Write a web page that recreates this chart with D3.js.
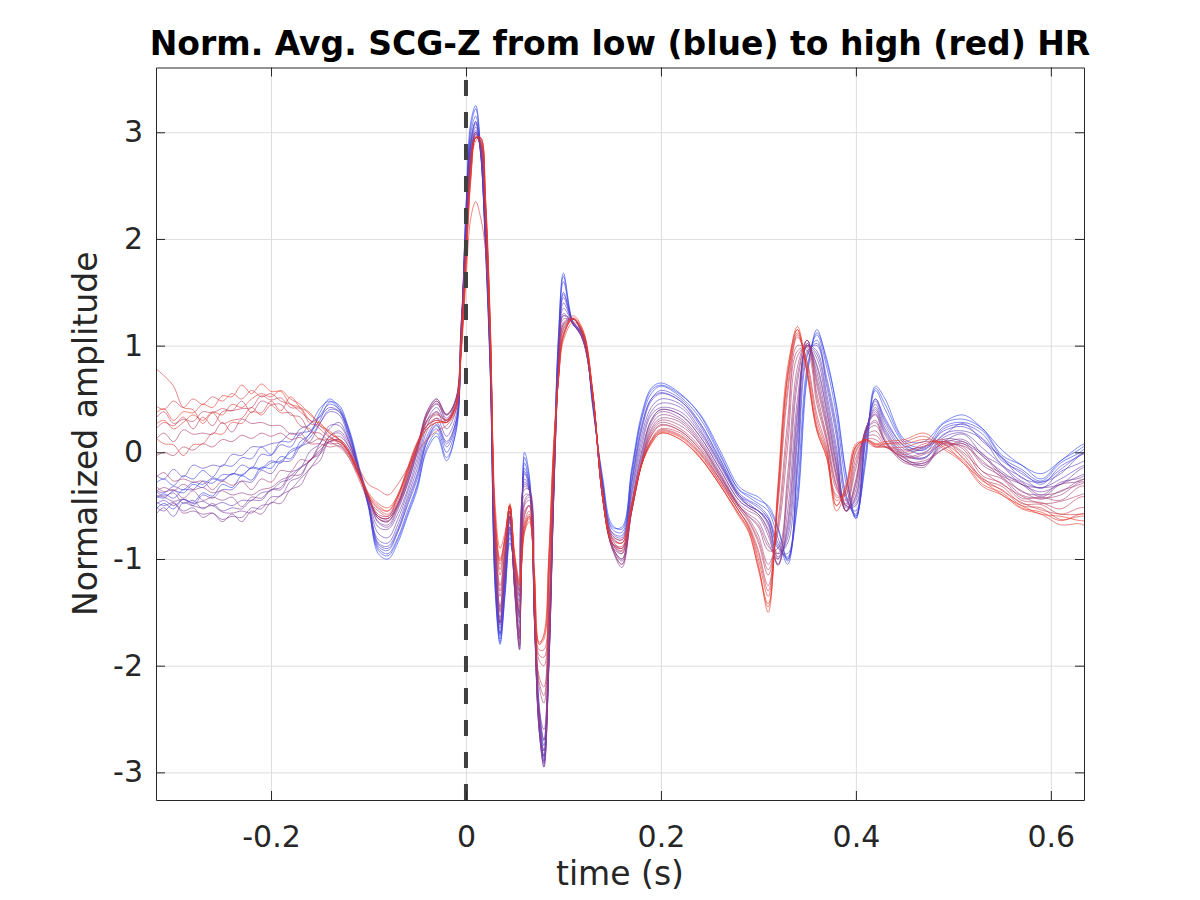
<!DOCTYPE html>
<html>
<head>
<meta charset="UTF-8">
<script src="https://d3js.org/d3.v7.min.js"></script>
<style>
    body { margin: 0; background: #fff; }
    text { font-family: "DejaVu Sans", sans-serif; fill: #262626; }
    .grid line { stroke: #dedede; stroke-width: 1; }
    .grid path { display: none; }
    .axis path, .axis line { stroke: #262626; stroke-width: 1; }
    .axis text { font-size: 30px; }
</style>
</head>
<body>
<svg id="chart" width="1200" height="900"></svg>
<script>
// shared time base (s)
const timeS = [
    -0.32,-0.31,-0.30,-0.29,-0.28,-0.27,-0.26,-0.25,-0.24,-0.23,-0.22,-0.21,-0.20,-0.19,-0.18,-0.17,-0.16,-0.15,-0.14,-0.13,-0.12,-0.11,-0.10,
    -0.09,-0.08,-0.07,-0.06,-0.05,-0.04,-0.03,-0.02,-0.01,-0.005,
    0,0.005,0.01,0.015,0.02,0.025,0.03,0.035,0.04,0.045,0.05,0.055,0.06,0.065,0.07,0.075,0.08,0.085,0.09,0.095,0.1,0.11,0.12,
    0.13,0.14,0.15,0.16,0.17,0.18,0.19,0.2,0.22,0.24,0.26,0.28,0.29,0.3,
    0.31,0.32,0.33,0.34,0.35,0.36,0.37,0.38,0.39,0.40,0.41,0.42,0.43,
    0.45,0.47,0.49,0.51,0.53,0.55,0.57,0.59,0.61,0.63,0.64
];

// one averaged beat per HR bin, low HR (blue) -> high HR (red)
const hr01 = [-0.55,-0.48,-0.53,-0.44,-0.47,-0.38,-0.41,-0.30,-0.33,-0.22,-0.26,-0.14,-0.15,-0.04,-0.06,0.1,0.17,0.37,0.5,0.42,0.22,-0.12,-0.5,
    -0.95,-1.0,-0.85,-0.6,-0.35,0.05,0.18,-0.05,0.2,1.0,
    2.3,3.1,3.25,2.85,1.9,0.7,-1.3,-1.8,-1.35,-0.8,-1.1,-1.35,-0.05,-0.25,-1.3,-2.4,-2.75,-1.8,-0.2,1.1,1.65,1.2,1.1,
    0.45,-0.25,-0.7,-0.7,-0.15,0.35,0.6,0.65,0.55,0.35,0.0,-0.35,-0.4,-0.45,
    -0.5,-0.7,-1.0,-0.5,0.7,1.15,0.85,0.45,-0.2,-0.6,-0.1,0.6,0.45,
    0.1,0.05,0.27,0.31,0.22,-0.03,-0.12,-0.25,-0.08,0.03,0.1];
const hr02 = [-0.4,-0.43,-0.36,-0.38,-0.3,-0.33,-0.25,-0.27,-0.2,-0.22,-0.14,-0.15,-0.08,-0.1,0.02,0.06,0.18,0.3,0.47,0.44,0.2,-0.15,-0.52,
    -0.92,-0.97,-0.82,-0.58,-0.32,0.02,0.15,-0.08,0.22,1.02,
    2.28,3.05,3.22,2.85,1.92,0.72,-1.28,-1.78,-1.32,-0.85,-1.05,-1.3,0.0,-0.22,-1.25,-2.35,-2.7,-1.75,-0.18,1.12,1.68,1.22,1.12,
    0.42,-0.22,-0.68,-0.72,-0.18,0.32,0.58,0.63,0.54,0.36,0.03,-0.32,-0.38,-0.42,
    -0.52,-0.72,-1.02,-0.45,0.75,1.12,0.88,0.42,-0.22,-0.62,-0.05,0.62,0.5,
    0.12,0.1,0.28,0.35,0.22,0.02,-0.12,-0.2,-0.08,0.06,0.1];
const hr03 = [-0.3,-0.25,-0.31,-0.22,-0.25,-0.17,-0.23,-0.12,-0.13,-0.05,-0.06,0.05,-0.02,0.1,0.1,0.22,0.26,0.41,0.48,0.4,0.2,-0.15,-0.5,
    -0.9,-0.95,-0.8,-0.55,-0.3,0.1,0.22,0.0,0.25,1.05,
    2.25,3.0,3.15,2.8,1.95,0.75,-1.25,-1.75,-1.3,-0.75,-1.15,-1.4,-0.1,-0.3,-1.35,-2.45,-2.8,-1.85,-0.25,1.05,1.6,1.2,1.1,
    0.45,-0.28,-0.72,-0.75,-0.2,0.3,0.55,0.62,0.52,0.32,-0.02,-0.35,-0.42,-0.48,
    -0.55,-0.8,-1.05,-0.35,0.8,1.1,0.8,0.35,-0.3,-0.62,0.0,0.58,0.4,
    0.08,0.02,0.24,0.28,0.2,-0.05,-0.16,-0.27,-0.1,0.0,0.08];
const hr04 = [-0.45,-0.39,-0.43,-0.35,-0.35,-0.27,-0.29,-0.21,-0.21,-0.12,-0.15,-0.02,-0.03,0.07,0.05,0.18,0.2,0.34,0.45,0.4,0.18,-0.15,-0.48,
    -0.88,-0.92,-0.75,-0.5,-0.25,0.1,0.25,0.05,0.28,1.1,
    2.2,2.95,3.1,2.8,2.0,0.8,-1.2,-1.7,-1.25,-0.7,-1.2,-1.5,-0.15,-0.3,-1.4,-2.5,-2.85,-1.9,-0.3,1.0,1.5,1.2,1.1,
    0.48,-0.3,-0.75,-0.78,-0.25,0.25,0.5,0.58,0.5,0.28,-0.05,-0.38,-0.45,-0.5,
    -0.6,-0.85,-1.0,-0.2,0.9,1.05,0.7,0.25,-0.4,-0.6,0.1,0.5,0.32,
    0.05,-0.01,0.22,0.26,0.17,-0.08,-0.18,-0.3,-0.13,-0.03,0.05];
const hr05 = [-0.35,-0.38,-0.32,-0.35,-0.28,-0.3,-0.24,-0.26,-0.2,-0.21,-0.15,-0.16,-0.1,-0.08,0.0,0.05,0.14,0.27,0.4,0.38,0.16,-0.16,-0.48,
    -0.86,-0.9,-0.74,-0.48,-0.22,0.12,0.26,0.08,0.3,1.08,
    2.18,2.92,3.08,2.82,2.0,0.8,-1.18,-1.72,-1.22,-0.72,-1.2,-1.52,-0.18,-0.32,-1.42,-2.52,-2.88,-1.9,-0.3,0.98,1.48,1.22,1.1,
    0.48,-0.3,-0.76,-0.8,-0.28,0.22,0.5,0.56,0.48,0.27,-0.06,-0.4,-0.46,-0.52,
    -0.62,-0.88,-0.98,-0.12,0.92,1.02,0.66,0.2,-0.42,-0.58,0.12,0.5,0.3,
    0.06,0.04,0.2,0.24,0.13,-0.06,-0.2,-0.28,-0.16,-0.02,0.03];
const hr06 = [-0.2,-0.25,-0.16,-0.23,-0.12,-0.15,-0.12,-0.13,-0.02,-0.03,0.05,0.05,0.08,0.1,0.18,0.16,0.27,0.33,0.42,0.38,0.15,-0.15,-0.45,
    -0.85,-0.88,-0.72,-0.45,-0.2,0.15,0.28,0.1,0.3,1.05,
    2.15,2.9,3.1,2.85,2.0,0.8,-1.15,-1.7,-1.2,-0.7,-1.2,-1.55,-0.2,-0.35,-1.45,-2.55,-2.85,-1.9,-0.3,0.95,1.45,1.2,1.1,
    0.5,-0.3,-0.78,-0.82,-0.3,0.2,0.48,0.55,0.48,0.25,-0.08,-0.4,-0.48,-0.55,
    -0.62,-0.9,-0.95,-0.05,0.95,1.0,0.62,0.15,-0.45,-0.55,0.15,0.48,0.28,
    0.03,0.03,0.16,0.27,0.1,-0.05,-0.24,-0.28,-0.2,-0.03,0.0];
const hr07 = [-0.6,-0.52,-0.6,-0.47,-0.5,-0.4,-0.43,-0.35,-0.35,-0.27,-0.28,-0.17,-0.2,-0.09,-0.08,0.05,0.1,0.27,0.38,0.35,0.12,-0.18,-0.5,
    -0.82,-0.85,-0.68,-0.42,-0.15,0.2,0.32,0.15,0.35,1.1,
    2.1,2.9,3.05,2.8,2.0,0.85,-1.1,-1.65,-1.15,-0.65,-1.25,-1.6,-0.25,-0.35,-1.5,-2.6,-2.9,-1.95,-0.35,0.9,1.4,1.2,1.08,
    0.5,-0.32,-0.8,-0.85,-0.35,0.15,0.42,0.5,0.45,0.22,-0.1,-0.4,-0.5,-0.55,
    -0.65,-0.95,-0.85,0.1,1.0,0.95,0.55,0.05,-0.5,-0.5,0.18,0.45,0.25,
    0.0,-0.05,0.17,0.2,0.12,-0.12,-0.23,-0.34,-0.18,-0.1,-0.05];
const hr08 = [-0.5,-0.45,-0.5,-0.44,-0.48,-0.46,-0.5,-0.47,-0.5,-0.45,-0.45,-0.38,-0.36,-0.28,-0.25,-0.15,-0.08,0.08,0.22,0.28,0.1,-0.17,-0.47,
    -0.76,-0.8,-0.63,-0.38,-0.1,0.25,0.38,0.22,0.4,1.12,
    2.08,2.88,3.02,2.82,2.02,0.85,-1.08,-1.62,-1.12,-0.62,-1.28,-1.68,-0.28,-0.35,-1.5,-2.6,-2.92,-1.98,-0.38,0.88,1.35,1.2,1.06,
    0.5,-0.35,-0.82,-0.9,-0.38,0.1,0.38,0.46,0.42,0.2,-0.1,-0.42,-0.5,-0.55,
    -0.66,-0.98,-0.8,0.18,1.0,0.92,0.5,0.0,-0.5,-0.48,0.18,0.42,0.22,
    -0.02,-0.06,0.14,0.18,0.04,-0.12,-0.27,-0.33,-0.25,-0.14,-0.1];
const hr09 = [-0.35,-0.41,-0.38,-0.48,-0.45,-0.53,-0.48,-0.55,-0.52,-0.53,-0.45,-0.45,-0.35,-0.33,-0.19,-0.15,0.01,0.08,0.25,0.25,0.1,-0.15,-0.45,
    -0.7,-0.72,-0.58,-0.35,-0.05,0.3,0.42,0.28,0.45,1.15,
    2.05,2.85,3.0,2.85,2.05,0.85,-1.05,-1.6,-1.1,-0.6,-1.3,-1.75,-0.3,-0.35,-1.5,-2.6,-2.95,-2.0,-0.4,0.85,1.3,1.2,1.05,
    0.5,-0.38,-0.85,-0.95,-0.42,0.05,0.35,0.42,0.38,0.18,-0.12,-0.42,-0.5,-0.55,
    -0.68,-1.0,-0.75,0.25,1.0,0.88,0.45,-0.05,-0.52,-0.45,0.2,0.4,0.2,
    -0.03,-0.05,0.1,0.17,-0.02,-0.13,-0.3,-0.33,-0.3,-0.16,-0.12];
const hr10 = [-0.45,-0.5,-0.47,-0.55,-0.52,-0.61,-0.57,-0.63,-0.6,-0.61,-0.52,-0.53,-0.42,-0.41,-0.27,-0.23,-0.07,0.0,0.15,0.18,0.05,-0.18,-0.42,
    -0.65,-0.68,-0.52,-0.3,0.0,0.35,0.48,0.32,0.5,1.2,
    2.0,2.8,3.0,2.85,2.1,0.9,-1.0,-1.6,-1.1,-0.6,-1.3,-1.85,-0.35,-0.35,-1.5,-2.55,-2.9,-2.0,-0.4,0.8,1.28,1.22,1.05,
    0.52,-0.4,-0.88,-1.0,-0.48,0.0,0.3,0.4,0.35,0.15,-0.15,-0.45,-0.52,-0.58,
    -0.72,-1.05,-0.7,0.35,1.0,0.82,0.4,-0.1,-0.55,-0.42,0.2,0.38,0.18,
    -0.05,-0.12,0.12,0.1,-0.01,-0.2,-0.28,-0.4,-0.28,-0.24,-0.18];
const hr11 = [-0.4,-0.42,-0.46,-0.44,-0.5,-0.52,-0.5,-0.56,-0.57,-0.55,-0.57,-0.5,-0.48,-0.4,-0.35,-0.25,-0.15,-0.02,0.15,0.2,0.08,-0.16,-0.42,
    -0.66,-0.7,-0.54,-0.3,0.0,0.34,0.46,0.3,0.5,1.18,
    2.02,2.82,3.0,2.85,2.08,0.88,-1.02,-1.6,-1.08,-0.6,-1.32,-1.82,-0.32,-0.36,-1.52,-2.58,-2.95,-2.02,-0.42,0.82,1.28,1.2,1.05,
    0.52,-0.4,-0.88,-1.02,-0.48,-0.02,0.3,0.4,0.35,0.15,-0.15,-0.45,-0.52,-0.58,
    -0.74,-1.06,-0.65,0.4,1.02,0.8,0.38,-0.12,-0.55,-0.4,0.22,0.36,0.16,
    -0.06,-0.1,0.08,0.12,-0.04,-0.18,-0.3,-0.37,-0.3,-0.22,-0.18];
const hr12 = [-0.5,-0.55,-0.48,-0.57,-0.55,-0.58,-0.57,-0.65,-0.58,-0.65,-0.55,-0.58,-0.47,-0.48,-0.35,-0.31,-0.15,-0.08,0.12,0.15,0.05,-0.15,-0.4,
    -0.62,-0.65,-0.5,-0.28,0.02,0.38,0.5,0.35,0.52,1.2,
    2.0,2.8,2.98,2.85,2.1,0.9,-0.95,-1.55,-1.05,-0.6,-1.3,-1.85,-0.4,-0.4,-1.55,-2.55,-2.85,-2.0,-0.45,0.78,1.25,1.22,1.05,
    0.52,-0.42,-0.9,-1.05,-0.5,-0.05,0.28,0.38,0.32,0.12,-0.18,-0.48,-0.55,-0.6,
    -0.78,-1.05,-0.55,0.5,1.02,0.75,0.32,-0.15,-0.55,-0.35,0.22,0.35,0.12,
    -0.08,-0.14,0.1,0.08,-0.03,-0.22,-0.3,-0.42,-0.3,-0.27,-0.2];
const hr13 = [-0.3,-0.37,-0.35,-0.43,-0.36,-0.45,-0.42,-0.45,-0.42,-0.51,-0.42,-0.43,-0.35,-0.35,-0.22,-0.21,-0.07,-0.02,0.1,0.12,0.02,-0.2,-0.42,
    -0.6,-0.62,-0.48,-0.25,0.05,0.38,0.5,0.35,0.5,1.15,
    1.95,2.75,2.98,2.88,2.15,0.95,-0.9,-1.5,-1.0,-0.55,-1.25,-1.8,-0.45,-0.4,-1.5,-2.5,-2.8,-1.95,-0.4,0.75,1.22,1.25,1.08,
    0.55,-0.42,-0.9,-1.08,-0.55,-0.08,0.25,0.35,0.3,0.1,-0.2,-0.5,-0.58,-0.65,
    -0.85,-1.0,-0.4,0.65,1.05,0.7,0.28,-0.2,-0.55,-0.3,0.2,0.3,0.1,
    -0.1,-0.1,0.03,0.1,-0.1,-0.2,-0.37,-0.4,-0.37,-0.26,-0.25];
const hr14 = [-0.38,-0.33,-0.36,-0.3,-0.35,-0.33,-0.38,-0.36,-0.4,-0.38,-0.4,-0.35,-0.33,-0.26,-0.22,-0.14,-0.08,0.02,0.1,0.12,0.02,-0.2,-0.42,
    -0.62,-0.64,-0.5,-0.26,0.04,0.36,0.48,0.36,0.5,1.12,
    1.95,2.75,2.96,2.88,2.18,0.98,-0.88,-1.48,-0.98,-0.55,-1.22,-1.75,-0.48,-0.42,-1.48,-2.45,-2.7,-1.88,-0.38,0.75,1.2,1.25,1.08,
    0.55,-0.42,-0.9,-1.05,-0.55,-0.1,0.22,0.32,0.28,0.08,-0.2,-0.5,-0.6,-0.68,
    -0.88,-0.95,-0.3,0.72,1.05,0.66,0.25,-0.22,-0.55,-0.28,0.2,0.28,0.1,
    -0.08,-0.12,0.06,0.06,-0.08,-0.24,-0.36,-0.44,-0.36,-0.3,-0.26];
const hr15 = [-0.25,-0.19,-0.27,-0.25,-0.28,-0.27,-0.35,-0.27,-0.31,-0.27,-0.35,-0.25,-0.28,-0.17,-0.18,-0.07,-0.08,0.05,0.1,0.1,0.0,-0.2,-0.42,
    -0.62,-0.65,-0.5,-0.25,0.05,0.35,0.45,0.35,0.5,1.1,
    1.95,2.75,2.95,2.9,2.2,1.0,-0.85,-1.45,-0.95,-0.55,-1.2,-1.7,-0.5,-0.45,-1.45,-2.4,-2.6,-1.8,-0.35,0.75,1.2,1.25,1.08,
    0.55,-0.42,-0.88,-1.0,-0.55,-0.1,0.2,0.3,0.25,0.08,-0.22,-0.5,-0.6,-0.7,
    -0.92,-0.9,-0.2,0.8,1.05,0.62,0.22,-0.25,-0.55,-0.25,0.18,0.25,0.1,
    -0.08,-0.08,0.03,0.08,-0.12,-0.23,-0.4,-0.43,-0.4,-0.28,-0.28];
const hr16 = [0.1,0.18,0.1,0.21,0.17,0.18,0.17,0.28,0.19,0.31,0.27,0.28,0.25,0.25,0.17,0.18,0.09,0.13,0.08,0.08,-0.02,-0.2,-0.42,
    -0.6,-0.62,-0.48,-0.22,0.05,0.3,0.38,0.3,0.45,1.05,
    1.9,2.7,2.95,2.9,2.25,1.05,-0.8,-1.35,-0.95,-0.55,-1.15,-1.55,-0.55,-0.5,-1.35,-2.2,-2.35,-1.6,-0.25,0.75,1.18,1.25,1.1,
    0.55,-0.42,-0.88,-0.95,-0.55,-0.1,0.18,0.28,0.22,0.05,-0.22,-0.5,-0.62,-0.78,
    -1.05,-0.75,0.05,0.9,1.0,0.55,0.15,-0.3,-0.5,-0.15,0.15,0.2,0.08,
    -0.05,-0.02,0.08,0.05,-0.18,-0.25,-0.43,-0.42,-0.45,-0.32,-0.32];
const hr17 = [-0.05,0.0,-0.03,0.05,0.02,0.08,0.05,0.12,0.1,0.16,0.13,0.18,0.15,0.18,0.12,0.14,0.08,0.08,0.05,0.06,-0.03,-0.22,-0.44,
    -0.6,-0.62,-0.48,-0.22,0.05,0.3,0.36,0.3,0.45,1.02,
    1.88,2.7,2.95,2.9,2.28,1.08,-0.78,-1.3,-0.92,-0.52,-1.12,-1.5,-0.58,-0.5,-1.32,-2.15,-2.28,-1.52,-0.2,0.75,1.16,1.25,1.1,
    0.55,-0.42,-0.86,-0.93,-0.55,-0.12,0.16,0.26,0.2,0.03,-0.24,-0.52,-0.64,-0.82,
    -1.1,-0.7,0.18,0.95,0.98,0.5,0.12,-0.32,-0.48,-0.1,0.14,0.16,0.06,
    -0.04,0.0,0.1,0.0,-0.18,-0.3,-0.41,-0.48,-0.46,-0.4,-0.37];
const hr18 = [0.3,0.38,0.27,0.31,0.29,0.38,0.37,0.41,0.39,0.48,0.37,0.48,0.45,0.45,0.35,0.33,0.19,0.18,0.1,0.05,-0.05,-0.22,-0.42,
    -0.58,-0.6,-0.45,-0.2,0.08,0.28,0.35,0.3,0.45,1.0,
    1.85,2.7,2.95,2.92,2.3,1.1,-0.75,-1.25,-0.9,-0.5,-1.1,-1.45,-0.6,-0.5,-1.3,-2.1,-2.2,-1.45,-0.15,0.75,1.15,1.25,1.1,
    0.55,-0.4,-0.85,-0.92,-0.55,-0.12,0.15,0.25,0.2,0.02,-0.25,-0.52,-0.65,-0.85,
    -1.15,-0.65,0.3,1.0,0.95,0.45,0.1,-0.35,-0.45,-0.05,0.12,0.12,0.05,
    -0.02,0.05,0.1,0.03,-0.22,-0.29,-0.45,-0.47,-0.53,-0.42,-0.42];
const hr19 = [0.2,0.28,0.25,0.33,0.22,0.33,0.25,0.38,0.39,0.41,0.42,0.53,0.49,0.51,0.42,0.41,0.27,0.25,0.15,0.08,-0.05,-0.25,-0.45,
    -0.55,-0.6,-0.42,-0.18,0.08,0.25,0.32,0.28,0.45,0.98,
    1.85,2.65,2.95,2.92,2.3,1.1,-0.7,-1.15,-0.85,-0.5,-1.05,-1.35,-0.65,-0.55,-1.2,-1.95,-2.0,-1.25,-0.05,0.72,1.12,1.25,1.12,
    0.55,-0.4,-0.85,-0.9,-0.52,-0.12,0.12,0.22,0.18,0.0,-0.25,-0.55,-0.68,-0.92,
    -1.25,-0.5,0.55,1.08,0.85,0.35,0.05,-0.4,-0.4,0.0,0.12,0.08,0.05,
    0.0,0.08,0.1,-0.02,-0.25,-0.32,-0.48,-0.49,-0.58,-0.52,-0.52];
const hr20 = [0.45,0.4,0.48,0.42,0.5,0.45,0.52,0.48,0.55,0.5,0.58,0.52,0.55,0.48,0.45,0.38,0.3,0.22,0.14,0.1,-0.02,-0.22,-0.42,
    -0.53,-0.58,-0.42,-0.17,0.08,0.25,0.3,0.28,0.44,0.96,
    1.82,2.62,2.95,2.94,2.32,1.12,-0.68,-1.1,-0.82,-0.5,-1.02,-1.3,-0.68,-0.58,-1.18,-1.9,-1.92,-1.18,-0.02,0.72,1.1,1.25,1.12,
    0.55,-0.4,-0.85,-0.9,-0.5,-0.12,0.11,0.21,0.16,-0.01,-0.27,-0.55,-0.7,-0.95,
    -1.3,-0.45,0.62,1.1,0.82,0.3,0.02,-0.42,-0.38,0.02,0.12,0.06,0.05,
    0.02,0.06,0.12,-0.06,-0.24,-0.36,-0.47,-0.54,-0.58,-0.58,-0.56];
const hr21 = [0.8,0.72,0.62,0.42,0.4,0.27,0.37,0.27,0.3,0.32,0.42,0.35,0.44,0.37,0.37,0.25,0.22,0.12,0.12,0.1,0.0,-0.2,-0.4,
    -0.52,-0.55,-0.4,-0.15,0.1,0.25,0.3,0.28,0.42,0.95,
    1.8,2.6,2.95,2.95,2.35,1.15,-0.65,-1.05,-0.8,-0.5,-1.0,-1.25,-0.7,-0.6,-1.15,-1.85,-1.85,-1.1,0.0,0.7,1.1,1.25,1.12,
    0.55,-0.4,-0.85,-0.88,-0.5,-0.12,0.1,0.2,0.15,-0.02,-0.28,-0.55,-0.7,-1.0,
    -1.35,-0.4,0.7,1.12,0.78,0.25,0.0,-0.45,-0.35,0.05,0.12,0.05,0.05,
    0.05,0.1,0.08,-0.05,-0.27,-0.35,-0.5,-0.52,-0.63,-0.6,-0.6];
const hr22 = [0.15,0.08,0.07,-0.03,0.07,0.08,0.18,0.17,0.28,0.27,0.38,0.37,0.48,0.39,0.52,0.42,0.37,0.25,0.2,0.12,0.0,-0.15,-0.3,
    -0.35,-0.4,-0.3,-0.15,0.0,0.12,0.2,0.25,0.4,0.9,
    1.6,2.2,2.35,2.2,1.9,1.0,-0.5,-0.9,-0.75,-0.5,-0.95,-1.2,-0.75,-0.65,-1.1,-1.8,-1.7,-0.95,0.1,0.68,1.05,1.22,1.12,
    0.55,-0.35,-0.78,-0.82,-0.48,-0.12,0.08,0.18,0.12,-0.05,-0.3,-0.6,-0.75,-1.1,
    -1.45,-0.3,0.8,1.15,0.72,0.2,-0.05,-0.5,-0.3,0.08,0.1,0.05,0.08,
    0.1,0.15,0.03,-0.1,-0.32,-0.4,-0.53,-0.58,-0.68,-0.67,-0.72];
const hr23 = [0.25,0.3,0.22,0.28,0.35,0.3,0.38,0.35,0.45,0.42,0.5,0.55,0.52,0.58,0.5,0.45,0.35,0.28,0.18,0.12,0.0,-0.2,-0.38,
    -0.48,-0.52,-0.4,-0.15,0.08,0.22,0.28,0.3,0.45,0.94,
    1.76,2.58,2.92,2.95,2.38,1.18,-0.62,-1.02,-0.8,-0.5,-0.98,-1.22,-0.72,-0.62,-1.12,-1.78,-1.72,-1.0,0.05,0.7,1.08,1.26,1.14,
    0.58,-0.36,-0.8,-0.85,-0.5,-0.12,0.1,0.19,0.14,-0.04,-0.3,-0.58,-0.74,-1.08,
    -1.42,-0.38,0.72,1.15,0.75,0.22,-0.02,-0.5,-0.32,0.06,0.11,0.07,0.08,
    0.08,0.12,0.08,-0.1,-0.26,-0.4,-0.5,-0.58,-0.6,-0.64,-0.64];
const hr24 = [0.35,0.41,0.3,0.38,0.37,0.45,0.42,0.53,0.52,0.63,0.55,0.64,0.57,0.57,0.45,0.42,0.3,0.27,0.18,0.12,0.0,-0.2,-0.4,
    -0.5,-0.55,-0.42,-0.18,0.05,0.22,0.28,0.28,0.45,0.95,
    1.75,2.55,2.95,2.95,2.4,1.2,-0.6,-1.0,-0.8,-0.48,-1.0,-1.25,-0.75,-0.6,-1.1,-1.8,-1.75,-1.0,0.05,0.7,1.1,1.28,1.15,
    0.58,-0.38,-0.82,-0.85,-0.5,-0.12,0.08,0.18,0.12,-0.05,-0.3,-0.58,-0.72,-1.05,
    -1.5,-0.35,0.75,1.18,0.75,0.2,-0.05,-0.55,-0.35,0.05,0.12,0.08,0.1,
    0.12,0.18,0.05,-0.08,-0.3,-0.38,-0.52,-0.56,-0.64,-0.58,-0.58];

const beats = [hr01, hr02, hr03, hr04, hr05, hr06, hr07, hr08, hr09, hr10, hr11, hr12,
               hr13, hr14, hr15, hr16, hr17, hr18, hr19, hr20, hr21, hr22, hr23, hr24];
const xTicks = [-0.2, 0, 0.2, 0.4, 0.6];
const yTicks = [-3, -2, -1, 0, 1, 2, 3];

const margin = {top: 67.5, right: 116, bottom: 100, left: 156},
    width = 1200 - margin.left - margin.right,
    height = 900 - margin.top - margin.bottom;

const svg = d3.select("#chart");
svg.append("rect").attr("width", 1200).attr("height", 900).attr("fill", "#fff");

const chart = svg.append("g")
    .attr("transform", "translate(" + margin.left + "," + margin.top + ")");

const xScale = d3.scaleLinear().domain([-0.318, 0.634]).range([0, width]);
const yScale = d3.scaleLinear().domain([-3.259, 3.607]).range([height, 0]);

chart.append("clipPath").attr("id", "clip")
    .append("rect").attr("width", width).attr("height", height);

// grid
chart.append("g").attr("class", "grid")
    .attr("transform", "translate(0," + height + ")")
    .call(d3.axisBottom(xScale).tickValues(xTicks).tickSize(-height).tickFormat(""));
chart.append("g").attr("class", "grid")
    .call(d3.axisLeft(yScale).tickValues(yTicks).tickSize(-width).tickFormat(""));

// traces, blue first so the red ones end up on top
const color = d3.interpolateRgb("rgb(40,65,245)", "rgb(240,55,35)");
const line = d3.line()
    .x((d, i) => xScale(timeS[i]))
    .y(d => yScale(d))
    .curve(d3.curveCatmullRom.alpha(0.5));

chart.append("g").attr("clip-path", "url(#clip)")
    .selectAll("path")
    .data(beats)
    .join("path")
    .attr("d", line)
    .attr("fill", "none")
    .attr("stroke", (d, i) => color(i / (beats.length - 1)))
    .attr("stroke-opacity", 0.6)
    .attr("stroke-width", 1);

// marker at t = 0
chart.append("line")
    .attr("x1", xScale(0)).attr("x2", xScale(0))
    .attr("y1", height).attr("y2", 0)
    .attr("stroke", "#404040")
    .attr("stroke-width", 4)
    .attr("stroke-dasharray", "16,16");

// axes: ticks point inward, all four sides
chart.append("g").attr("class", "axis")
    .attr("transform", "translate(0," + height + ")")
    .call(d3.axisBottom(xScale).tickValues(xTicks).tickSize(-9).tickSizeOuter(0).tickPadding(26)
        .tickFormat(d => String(d)));
chart.append("g").attr("class", "axis")
    .call(d3.axisTop(xScale).tickValues(xTicks).tickSize(-9).tickSizeOuter(0).tickFormat(""));
chart.append("g").attr("class", "axis")
    .call(d3.axisLeft(yScale).tickValues(yTicks).tickSize(-9).tickSizeOuter(0).tickPadding(13)
        .tickFormat(d => String(d)));
chart.append("g").attr("class", "axis")
    .attr("transform", "translate(" + width + ",0)")
    .call(d3.axisRight(yScale).tickValues(yTicks).tickSize(-9).tickSizeOuter(0).tickFormat(""));

chart.selectAll(".axis text").attr("fill", "#262626");

// labels
svg.append("text")
    .attr("x", margin.left + width / 2).attr("y", 885)
    .attr("text-anchor", "middle")
    .style("font-size", "33px")
    .text("time (s)");

svg.append("text")
    .attr("transform", "translate(97," + (margin.top + height / 2) + ") rotate(-90)")
    .attr("text-anchor", "middle")
    .style("font-size", "33px")
    .text("Normalized amplitude");

svg.append("text")
    .attr("x", margin.left + width / 2).attr("y", 55)
    .attr("text-anchor", "middle")
    .style("font-size", "33px")
    .style("font-weight", "bold")
    .style("fill", "#000")
    .text("Norm. Avg. SCG-Z from low (blue) to high (red) HR");
</script>
</body>
</html>
